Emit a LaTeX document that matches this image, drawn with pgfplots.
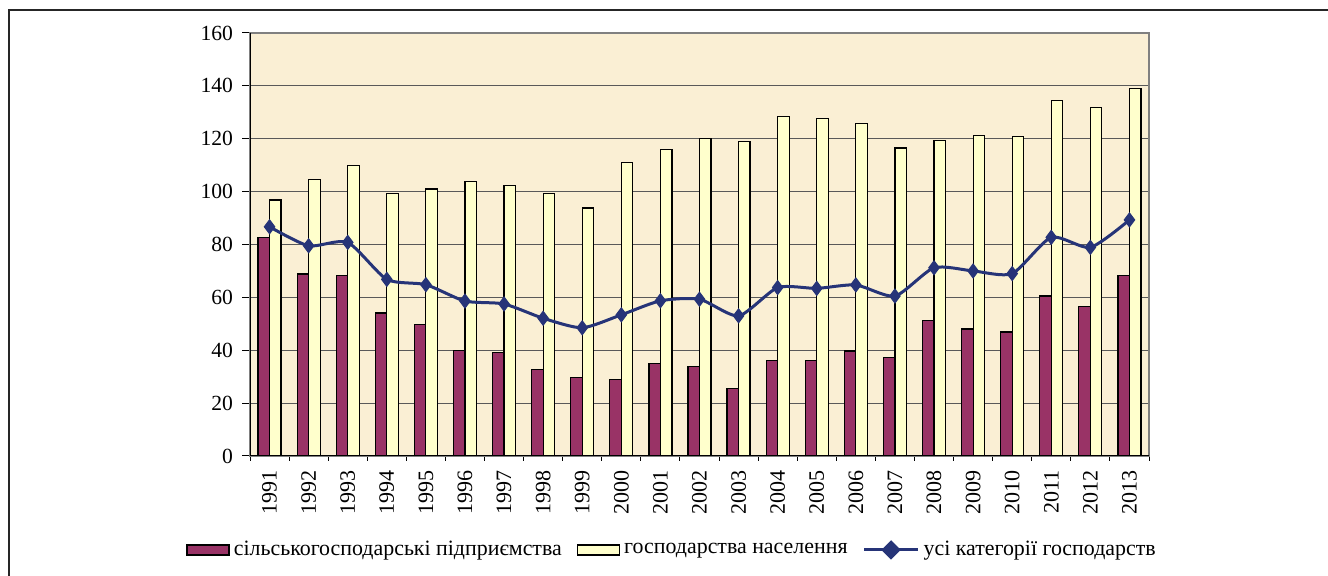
\documentclass[border=0pt]{standalone}
\usepackage{pgfplots}
\pgfplotsset{compat=1.18}
\usepackage{fontspec}
\setmainfont{Liberation Serif}
\definecolor{agri}{RGB}{153,51,102}
\definecolor{house}{RGB}{255,255,204}
\definecolor{allc}{RGB}{38,52,120}
\definecolor{parch}{RGB}{250,239,212}
\begin{document}
\begin{tikzpicture}
\useasboundingbox (0pt,0pt) rectangle (664pt,288pt);
\draw[line width=1pt, black!85] (4.5pt,0pt) -- (4.5pt,282.75pt) -- (664pt,282.75pt);
\begin{axis}[
  at={(125pt,60pt)}, anchor=south west,
  scale only axis, width=449.5pt, height=211.5pt,
  xmin=-0.5, xmax=22.5, ymin=0, ymax=160,
  ytick={0,20,...,160},
  xtick={0,...,22},
  xticklabels={1991,1992,1993,1994,1995,1996,1997,1998,1999,2000,2001,2002,2003,2004,2005,2006,2007,2008,2009,2010,2011,2012,2013},
  minor xtick={-0.5,0.5,...,22.5},
  major x tick style={draw=none},
  minor tick length=2.5pt,
  major tick length=4pt,
  tick align=outside,
  tick style={black, line width=0.5pt},
  xtick pos=bottom, ytick pos=left,
  ymajorgrids,
  grid style={black!65, line width=0.6pt},
  axis line style={black!50, line width=0.7pt},
  axis background/.style={fill=parch},
  /pgf/number format/assume math mode=true,
  yticklabel style={font=\fontsize{10.8}{12}\selectfont, xshift=-1pt},
  xticklabel style={font=\fontsize{11}{13}\selectfont, rotate=90, anchor=east, yshift=0pt, xshift=0.5pt},
  legend columns=3,
  legend style={draw=none, fill=none, at={(0.4706,-0.222)}, anchor=center,
    font=\fontsize{10.95}{13}\selectfont, nodes={inner sep=2pt},
    /tikz/every even column/.append style={column sep=5.5pt}},
]
\addplot[ybar, bar width=5.75pt, bar shift=-2.875pt, fill=agri, draw=black, line width=0.6pt,
  legend image code/.code={\draw[fill=agri, draw=black, line width=0.7pt] (0pt,-2.5pt) rectangle (21pt,2.5pt);}]
coordinates {(0,82.6)(1,68.8)(2,68.3)(3,54.1)(4,49.8)(5,39.8)(6,39.1)(7,32.6)(8,29.6)(9,29.0)(10,34.9)(11,33.8)(12,25.5)(13,36.2)(14,36.2)(15,39.7)(16,37.3)(17,51.1)(18,48.0)(19,46.9)(20,60.5)(21,56.4)(22,68.3)};
\addlegendentry{сільськогосподарські підприємства}
\addplot[ybar, bar width=5.75pt, bar shift=2.875pt, fill=house, draw=black, line width=0.6pt,
  legend image code/.code={\draw[fill=house, draw=black, line width=0.7pt] (0pt,-2.5pt) rectangle (21pt,2.5pt);}]
coordinates {(0,96.8)(1,104.5)(2,110.0)(3,99.3)(4,101.0)(5,103.9)(6,102.3)(7,99.3)(8,93.8)(9,111.1)(10,115.9)(11,120.1)(12,118.9)(13,128.3)(14,127.7)(15,125.9)(16,116.5)(17,119.4)(18,121.2)(19,120.7)(20,134.4)(21,131.9)(22,139.0)};
\addlegendentry{господарства населення}
\addplot[allc, line width=1.5pt, smooth, tension=0.4, mark=diamond*, mark size=3.5pt, mark options={fill=allc, draw=allc, line width=0.5pt},
  legend image code/.code={\draw[allc, line width=1.5pt] (0pt,0pt) -- (27pt,0pt); \fill[allc] (13.5pt,0pt) +(0,3.8pt) -- +(3.8pt,0) -- +(0,-3.8pt) -- +(-3.8pt,0) -- cycle;}]
coordinates {(0,86.7)(1,79.5)(2,80.8)(3,66.8)(4,64.8)(5,58.6)(6,57.5)(7,52.1)(8,48.5)(9,53.4)(10,58.7)(11,59.3)(12,53.0)(13,63.7)(14,63.4)(15,64.7)(16,60.5)(17,71.2)(18,70.0)(19,69.0)(20,82.7)(21,78.9)(22,89.3)};
\addlegendentry{усі категорії господарств}
\draw[black, line width=0.7pt] (axis description cs:0,1) -- (axis description cs:0,0) -- (axis description cs:1,0);
\end{axis}
\end{tikzpicture}
\end{document}
